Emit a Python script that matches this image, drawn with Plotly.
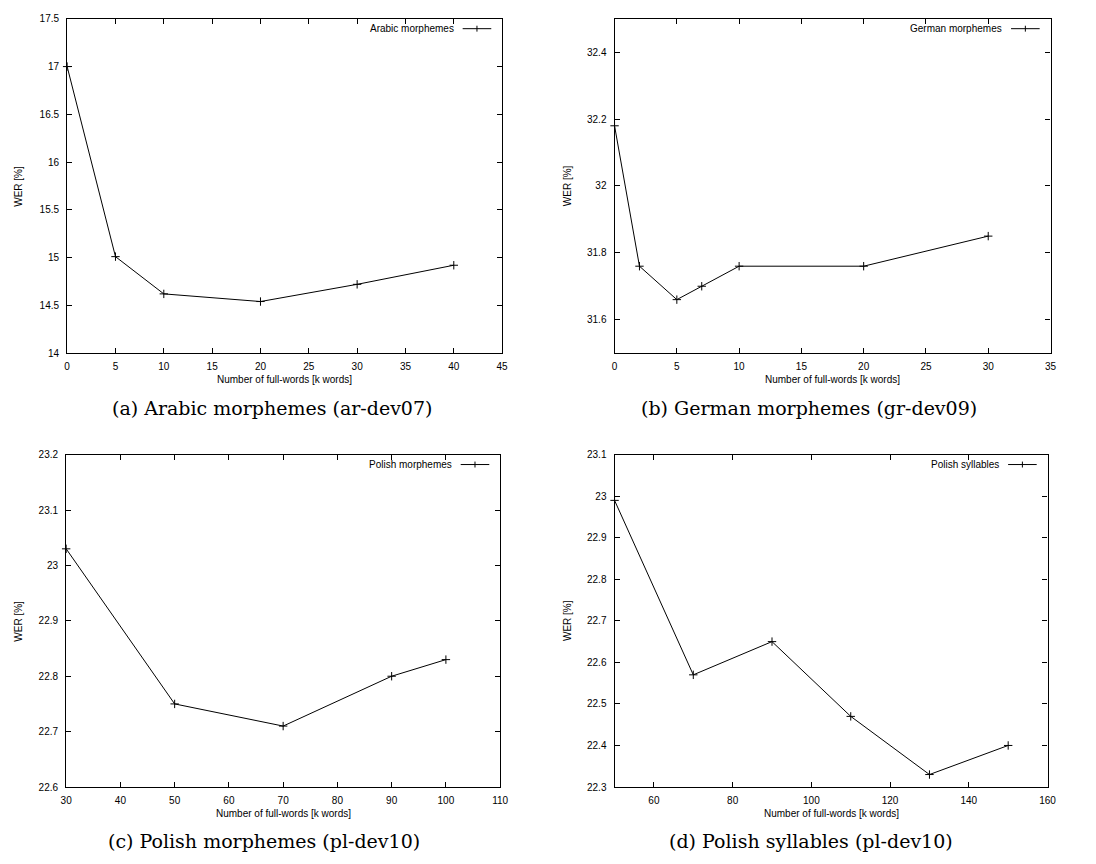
import plotly.graph_objects as go

W, H = 1096, 864

# ---- data ----
ar_x = [0, 5, 10, 20, 30, 40]
ar_wer = [17.0, 15.01, 14.62, 14.54, 14.72, 14.92]

gr_x = [0, 2, 5, 7, 10, 20, 30]
gr_wer = [32.18, 31.76, 31.66, 31.70, 31.76, 31.76, 31.85]

plm_x = [30, 50, 70, 90, 100]
plm_wer = [23.03, 22.75, 22.71, 22.80, 22.83]

pls_x = [50, 70, 90, 110, 130, 150]
pls_wer = [22.99, 22.57, 22.65, 22.47, 22.33, 22.40]

series_names = ["Arabic morphemes", "German morphemes", "Polish morphemes", "Polish syllables"]
captions = ["(a) Arabic morphemes (ar-dev07)", "(b) German morphemes (gr-dev09)",
            "(c) Polish morphemes (pl-dev10)", "(d) Polish syllables (pl-dev10)"]
x_title = "Number of full-words [k words]"
y_title = "WER [%]"

xs = [ar_x, gr_x, plm_x, pls_x]
ys = [ar_wer, gr_wer, plm_wer, pls_wer]

x_ranges = [[0, 45], [0, 35], [30, 110], [50, 160]]
x_dticks = [5, 5, 10, 20]
y_ranges = [[14, 17.5], [31.5, 32.5], [22.6, 23.2], [22.3, 23.1]]
y_tick0 = [14, 31.6, 22.6, 22.3]
y_dticks = [0.5, 0.2, 0.1, 0.1]

# ---- layout geometry (pixels) ----
boxes = [(62, 503, 13, 352), (617, 1059, 13, 352),
         (61, 501, 455, 792), (617, 1056, 455, 792)]
ytitle_x = [13, 570, 13, 570]
caption_pos = [(270, 408), (814, 408), (262, 847), (816, 847)]

FONT = "Liberation Sans"
fs = 10

fig = go.Figure()
annotations = []
shapes = []

for i in range(4):
    n = "" if i == 0 else str(i + 1)
    xa, ya = "x" + n, "y" + n
    L, R, T, B = boxes[i]
    fig.add_trace(go.Scatter(
        x=xs[i], y=ys[i], mode="lines+markers", name=series_names[i],
        xaxis=xa, yaxis=ya,
        line=dict(color="black", width=1),
        marker=dict(symbol="cross-thin", size=6, line=dict(color="black", width=1)),
        showlegend=False, cliponaxis=False))
    common = dict(showline=True, linecolor="black", linewidth=1.2, mirror="allticks",
                  ticks="inside", ticklen=5, tickwidth=1, tickcolor="black",
                  showgrid=False, zeroline=False,
                  tickfont=dict(family=FONT, size=fs, color="black"))
    fig.update_layout(**{
        "xaxis" + n: dict(domain=[L / W, R / W], range=x_ranges[i], tick0=0, dtick=x_dticks[i],
                          anchor=ya, ticklabelstandoff=4, **common),
        "yaxis" + n: dict(domain=[1 - B / H, 1 - T / H], range=y_ranges[i], tick0=y_tick0[i],
                          dtick=y_dticks[i], anchor=xa, ticklabelstandoff=5, **common),
    })
    # axis titles
    annotations.append(dict(text=x_title, x=(L + R) / 2 / W, y=1 - (B + 27) / H,
                            xref="paper", yref="paper", showarrow=False,
                            xanchor="center", yanchor="middle",
                            font=dict(family=FONT, size=fs, color="black")))
    annotations.append(dict(text=y_title, x=ytitle_x[i] / W, y=1 - (T + B) / 2 / H,
                            xref="paper", yref="paper", showarrow=False, textangle=-90,
                            xanchor="center", yanchor="middle",
                            font=dict(family=FONT, size=fs, color="black")))
    # caption
    cx, cy = caption_pos[i]
    annotations.append(dict(text=captions[i], x=cx / W, y=1 - cy / H,
                            xref="paper", yref="paper", showarrow=False,
                            xanchor="center", yanchor="middle",
                            font=dict(family="DejaVu Serif", size=19, color="black")))
    # gnuplot-style key: text then line sample with marker
    w, h = R - L, B - T
    ky = 1 - 10 / h
    annotations.append(dict(text=series_names[i], x=1 - 47 / w, y=ky,
                            xref=xa + " domain", yref=ya + " domain", showarrow=False,
                            xanchor="right", yanchor="middle",
                            font=dict(family=FONT, size=fs, color="black")))
    shapes.append(dict(type="line", xref=xa + " domain", yref=ya + " domain",
                       x0=1 - 40 / w, x1=1 - 11 / w, y0=ky, y1=ky,
                       line=dict(color="black", width=1)))
    shapes.append(dict(type="line", xref=xa + " domain", yref=ya + " domain",
                       x0=1 - 25.5 / w, x1=1 - 25.5 / w, y0=ky - 3 / h, y1=ky + 3 / h,
                       line=dict(color="black", width=1)))

fig.update_layout(width=W, height=H, margin=dict(l=0, r=0, t=0, b=0),
                  paper_bgcolor="white", plot_bgcolor="white",
                  annotations=annotations, shapes=shapes, showlegend=False)

fig.write_html("out.html")
